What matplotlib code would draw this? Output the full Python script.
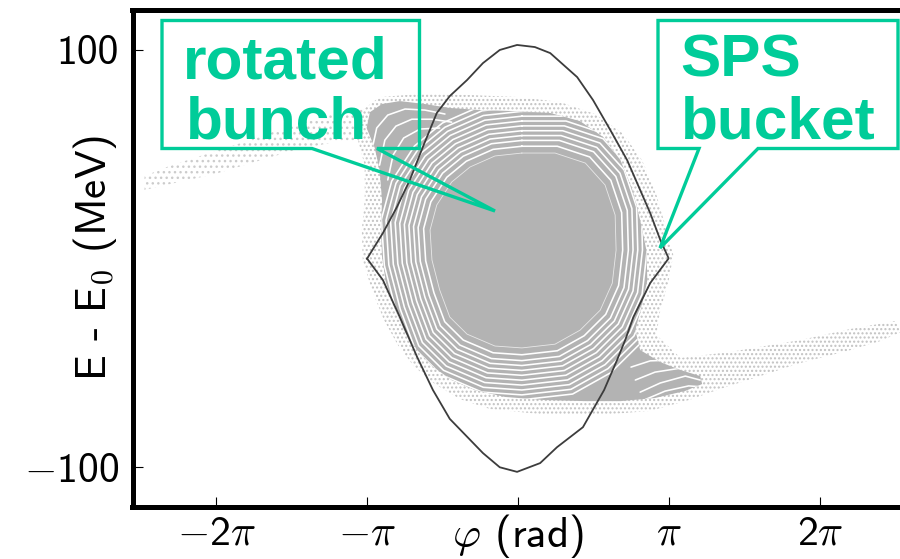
import numpy as np
import matplotlib
matplotlib.use("Agg")
import matplotlib.pyplot as plt
from matplotlib.patches import Polygon
from matplotlib import transforms

plt.rcParams['mathtext.fontset'] = 'cm'
plt.rcParams['axes.unicode_minus'] = False

# ---------------- data (phase in rad, energy offset in MeV) ----------------
sep_upper_phi = [-3.14, -2.81, -2.52, -2.25, -1.98, -1.69, -1.42, -1.06, -0.73, -0.38, -0.02,
                 0.35, 0.67, 1.23, 1.56, 1.92, 2.27, 2.54, 2.75, 2.96, 3.13]
sep_upper_E = [0.0, 12.3, 24.7, 37.7, 53.5, 69.8, 77.9, 85.6, 93.7, 100.0, 102.4,
               101.4, 98.5, 87.0, 76.0, 61.6, 47.2, 32.9, 21.8, 8.9, 0.3]
sep_lower_phi = [3.13, 2.75, 2.40, 2.23, 2.06, 1.79, 1.35, 0.81, 0.46, -0.02, -0.38,
                 -0.73, -1.42, -1.77, -2.10, -2.46, -2.81, -3.14]
sep_lower_E = [0.0, -11.7, -28.0, -39.0, -48.6, -63.0, -80.8, -90.4, -98.0, -102.2, -100.0,
               -93.2, -76.8, -63.0, -47.1, -28.0, -10.3, 0.0]

# dense part of the rotated bunch (outline)
core_phi = [-3.15, -3.08, -2.83, -2.46, -1.94, -1.42, -0.79, -0.06, 0.67, 1.29, 1.77, 2.13,
            2.38, 2.54, 2.67, 2.69, 2.58, 2.44, 2.54, 2.96, 3.38, 3.79, 3.83, 3.48, 2.85,
            2.13, 1.40, 0.56, -0.27, -0.90, -1.38, -1.79, -2.10, -2.38, -2.58, -2.75,
            -2.83, -2.85, -2.83, -2.88, -2.98]
core_E = [62.6, 70.2, 74.1, 75.5, 74.1, 72.2, 71.2, 70.7, 69.8, 65.9, 58.3, 47.2,
          32.9, 18.5, 4.1, -10.3, -22.2, -34.2, -43.8, -49.6, -53.4, -56.3, -60.1, -63.4, -66.8,
          -68.3, -68.3, -67.8, -66.3, -63.0, -58.2, -51.5, -43.8, -34.2, -23.2, -11.2,
          1.2, 13.7, 28.1, 42.5, 53.0]

# sparse halo incl. the lower-right filament tail
halo_phi = [-3.29, -2.88, -2.04, -1.00, 0.04, 0.88, 1.60, 2.17, 2.58, 2.88, 3.06, 3.23,
            3.13, 2.96, 2.88, 3.38, 4.42, 5.88, 6.92, 7.85, 7.96, 7.54, 6.92, 5.88, 5.04,
            4.21, 3.58, 2.75, 1.71, 0.46, -0.58, -1.21, -1.73, -2.17, -2.50, -2.79,
            -3.04, -3.23, -3.25, -3.19, -3.19, -3.33]
halo_E = [70.2, 77.4, 78.9, 78.4, 77.4, 75.0, 69.3, 60.2, 47.2, 30.5, 16.1, 1.7,
          -11.2, -24.6, -36.6, -47.6, -44.7, -39.0, -33.7, -29.9, -35.2, -39.5, -43.8, -50.0, -56.3,
          -62.4, -67.6, -73.0, -74.9, -74.5, -72.1, -67.3, -60.1, -51.5, -41.4, -29.4,
          -15.0, -0.7, 13.7, 28.1, 44.8, 56.8]

# upper-left filament tail
tail_phi = [-3.19, -3.92, -4.75, -5.58, -6.42, -7.25, -7.77, -7.77, -7.15, -6.31, -5.48,
            -4.65, -3.81, -3.25]
tail_E = [72.1, 69.3, 63.5, 56.8, 50.6, 44.4, 39.6, 32.9, 36.2, 40.5, 46.3, 52.0, 55.9, 56.8]

# innermost filament ring (white gaps) and the ring-to-ring scale
ring_center = (0.08, 4.1)
ring_phi = [0.08, 0.77, 1.40, 1.81, 2.02, 2.04, 1.96, 1.71, 1.29, 0.77, 0.08, -0.48,
            -1.06, -1.42, -1.63, -1.79, -1.83, -1.69, -1.38, -1.00, -0.48]
ring_E = [50.6, 50.6, 45.8, 35.3, 20.9, 4.1, -11.8, -24.7, -34.3, -41.0, -42.8, -41.9,
          -36.2, -28.0, -15.0, -0.7, 13.7, 25.7, 36.7, 43.9, 49.2]
ring_scales = [1.0, 1.07, 1.13, 1.18, 1.23, 1.28, 1.33, 1.38, 1.43, 1.48, 1.53]

# white gaps between the filaments of the two spiral arms
arm_gaps_phi = [[-3.04, -2.94, -2.71, -2.35, -1.94, -1.52],
                [-2.88, -2.77, -2.54, -2.21, -1.79, -1.38],
                [-2.71, -2.60, -2.38, -2.04, -1.63],
                [2.54, 2.96, 3.48, 3.79],
                [2.44, 2.85, 3.38],
                [2.35, 2.75, 3.25, 3.60],
                [2.65, 3.06, 3.55, 3.85]]
arm_gaps_E = [[52.0, 62.6, 68.8, 71.7, 71.2, 69.3],
              [44.8, 56.8, 63.5, 66.8, 66.8, 65.4],
              [37.7, 49.6, 57.8, 62.1, 62.6],
              [-64.0, -59.6, -56.3, -58.2],
              [-58.2, -54.4, -52.5],
              [-52.0, -49.0, -48.6, -52.0],
              [-67.5, -63.5, -61.0, -61.5]]

xtick_vals = [-2 * np.pi, -np.pi, 0, np.pi, 2 * np.pi]
xtick_labels = [r'$-$2$\pi$', r'$-\pi$', '', r'$\pi$', r'2$\pi$']
ytick_vals = [-100, 100]
ytick_labels = [r'$-$100', '100']

TEAL = '#00CC99'
GREY = '#b3b3b3'
SF = 'cmss10'

# ---------------- figure ----------------
fig = plt.figure(figsize=(9, 5.59), dpi=100)
W, H = 900, 559
ax = fig.add_axes([132.5 / W, 1 - 506.7 / H, 770.1 / W, 497.0 / H])
ax.set_xlim(-8.02, 8.0)
ax.set_ylim(-118.9, 119.3)

plt.rcParams['hatch.linewidth'] = 1.0
halo = Polygon(np.column_stack([halo_phi, halo_E]), closed=True, facecolor='none',
               edgecolor='#c2c2c2', hatch='....', linewidth=0, zorder=1)
ax.add_patch(halo)
tail = Polygon(np.column_stack([tail_phi, tail_E]), closed=True, facecolor='none',
               edgecolor='#cccccc', hatch='...', linewidth=0, zorder=1)
ax.add_patch(tail)
core = Polygon(np.column_stack([core_phi, core_E]), closed=True, facecolor=GREY,
               edgecolor='none', linewidth=0, zorder=2)
ax.add_patch(core)

rp = np.array(ring_phi + ring_phi[:1])
re = np.array(ring_E + ring_E[:1])
for i, s in enumerate(ring_scales):
    ln, = ax.plot(ring_center[0] + s * (rp - ring_center[0]),
                  ring_center[1] + s * (re - ring_center[1]),
                  color='white', lw=0.6 if i == 0 else 1.15, alpha=0.7 if i == 0 else 1.0,
                  solid_joinstyle='round', zorder=3)
    ln.set_clip_path(core)
for gp, ge in zip(arm_gaps_phi, arm_gaps_E):
    ln, = ax.plot(gp, ge, color='white', lw=1.15, solid_joinstyle='round',
                  solid_capstyle='round', zorder=3)
    ln.set_clip_path(core)

ax.plot(sep_upper_phi + sep_lower_phi, sep_upper_E + sep_lower_E,
        color='#3c3c3c', lw=1.3, zorder=5, solid_joinstyle='round')

for side in ['left', 'bottom', 'top']:
    ax.spines[side].set_linewidth(3.6)
ax.spines['right'].set_visible(False)

ax.set_xticks(xtick_vals)
ax.set_xticklabels(xtick_labels, fontfamily=SF)
ax.set_yticks(ytick_vals)
ax.set_yticklabels(ytick_labels, fontfamily=SF)
ax.tick_params(direction='in', length=7, width=0.8, labelsize=30)
ax.tick_params(axis='y', pad=10)
ax.tick_params(axis='x', pad=27)
for lab in ax.get_xticklabels():
    lab.set_verticalalignment('baseline')

ax.text(0, -0.0811, r'$\varphi$ (rad)', transform=ax.get_xaxis_transform(),
        ha='center', va='baseline', fontsize=31, fontfamily=SF, clip_on=False)
fig.text(95 / W, 1 - 258 / H, r'E - E$_0$ (MeV)', rotation=90,
         ha='center', va='center', fontsize=31, fontfamily=SF)

# ---------------- callouts (pixel layout) ----------------
pix = transforms.Affine2D().scale(1, -1).translate(0, H)
call1 = [(162, 20.5), (419.5, 20.5), (419.5, 148.5), (377, 148.5), (495, 211),
         (312, 148.5), (162, 148.5)]
call2 = [(658, 20.5), (898, 20.5), (898, 148.5), (758, 148.5), (660, 248),
         (699, 148.5), (658, 148.5)]
for pts in (call1, call2):
    fig.add_artist(Polygon(pts, closed=True, fill=False, edgecolor=TEAL, linewidth=2.4,
                           joinstyle='miter', transform=pix, zorder=10))

tkw = dict(transform=pix, ha='left', va='baseline', fontsize=43.5, color=TEAL,
           family='Liberation Sans', fontweight='bold', zorder=11)
fig.text(183, 78.3, 'rotated', **tkw)
fig.text(186, 138.3, 'bunch', **tkw)
fig.text(680, 76.7, 'SPS', **tkw)
fig.text(681, 138.3, 'bucket', **tkw)

fig.savefig('out.png', dpi=100)
